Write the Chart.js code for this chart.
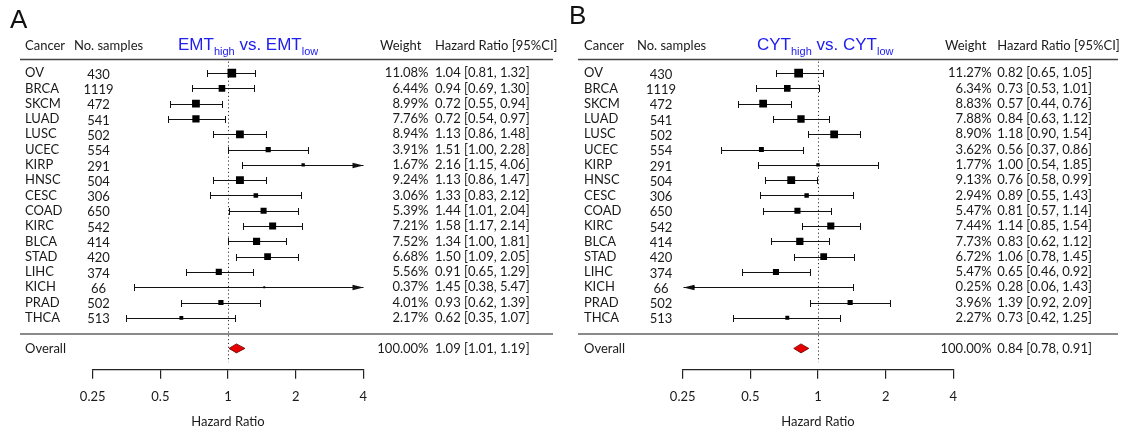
<!DOCTYPE html>
<html>
<head>
<meta charset="utf-8">
<script src="https://cdn.jsdelivr.net/npm/chart.js@4.4.1/dist/chart.umd.min.js"></script>
<style>
  html, body { margin: 0; padding: 0; background: #fff; }
  #wrap { position: relative; width: 1124px; height: 434px; }
  canvas { position: absolute; top: 0; }
</style>
</head>
<body>
<div id="wrap">
  <canvas id="panelA" width="562" height="434" style="left:0"></canvas>
  <canvas id="panelB" width="562" height="434" style="left:562px"></canvas>
</div>
<script>
// rows, top to bottom
const cancers = ['OV', 'BRCA', 'SKCM', 'LUAD', 'LUSC', 'UCEC', 'KIRP', 'HNSC', 'CESC',
  'COAD', 'KIRC', 'BLCA', 'STAD', 'LIHC', 'KICH', 'PRAD', 'THCA'];
const samples = [430, 1119, 472, 541, 502, 554, 291, 504, 306, 650, 542, 414, 420, 374, 66, 502, 513];

// panel A: EMT high vs low
const emtWeight = [11.08, 6.44, 8.99, 7.76, 8.94, 3.91, 1.67, 9.24, 3.06, 5.39, 7.21, 7.52, 6.68, 5.56, 0.37, 4.01, 2.17];
const emtHR   = [1.04, 0.94, 0.72, 0.72, 1.13, 1.51, 2.16, 1.13, 1.33, 1.44, 1.58, 1.34, 1.50, 0.91, 1.45, 0.93, 0.62];
const emtLow  = [0.81, 0.69, 0.55, 0.54, 0.86, 1.00, 1.15, 0.86, 0.83, 1.01, 1.17, 1.00, 1.09, 0.65, 0.38, 0.62, 0.35];
const emtHigh = [1.32, 1.30, 0.94, 0.97, 1.48, 2.28, 4.06, 1.47, 2.12, 2.04, 2.14, 1.81, 2.05, 1.29, 5.47, 1.39, 1.07];
const emtOverall = [1.09, 1.01, 1.19];

// panel B: CYT high vs low
const cytWeight = [11.27, 6.34, 8.83, 7.88, 8.90, 3.62, 1.77, 9.13, 2.94, 5.47, 7.44, 7.73, 6.72, 5.47, 0.25, 3.96, 2.27];
const cytHR   = [0.82, 0.73, 0.57, 0.84, 1.18, 0.56, 1.00, 0.76, 0.89, 0.81, 1.14, 0.83, 1.06, 0.65, 0.28, 1.39, 0.73];
const cytLow  = [0.65, 0.53, 0.44, 0.63, 0.90, 0.37, 0.54, 0.58, 0.55, 0.57, 0.85, 0.62, 0.78, 0.46, 0.06, 0.92, 0.42];
const cytHigh = [1.05, 1.01, 0.76, 1.12, 1.54, 0.86, 1.85, 0.99, 1.43, 1.14, 1.54, 1.12, 1.45, 0.92, 1.43, 2.09, 1.25];
const cytOverall = [0.84, 0.78, 0.91];

const overallWeight = 100.00;
const axisTicks = [0.25, 0.5, 1, 2, 4];
const tickLabels = ['0.25', '0.5', '1', '2', '4'];
const headers = ['Cancer', 'No. samples', 'Weight', 'Hazard Ratio [95%CI]'];

const FONT = 'Lato, "Open Sans", sans-serif';
const TXT = '#1a1a1a';
const SIZE = 13;

function fmtCI(h, l, u) {
  return h.toFixed(2) + ' [' + l.toFixed(2) + ', ' + u.toFixed(2) + ']';
}

function forestPlugin(p) {
  return {
    id: 'forest' + p.letter,
    beforeDatasetsDraw(chart) {
      const ctx = chart.ctx, x = chart.scales.x, y = chart.scales.y;
      ctx.save();
      // dotted line at HR = 1
      const x1 = Math.round(x.getPixelForValue(1)) + 0.5;
      ctx.strokeStyle = '#333';
      ctx.lineWidth = 1;
      ctx.setLineDash([1.2, 2.6]);
      ctx.beginPath();
      ctx.moveTo(x1, y.getPixelForValue(0.25));
      ctx.lineTo(x1, y.getPixelForValue(19.9));
      ctx.stroke();
      ctx.setLineDash([]);

      // confidence intervals, arrows when cut by the axis
      ctx.strokeStyle = '#111';
      ctx.fillStyle = '#111';
      p.low.forEach((lo, i) => {
        const hi = p.high[i];
        const py = Math.round(y.getPixelForValue(i + 1)) + 0.5;
        const a = Math.round(x.getPixelForValue(Math.max(lo, x.min))) + 0.5;
        const b = Math.round(x.getPixelForValue(Math.min(hi, x.max))) + 0.5;
        ctx.beginPath();
        ctx.moveTo(a, py);
        ctx.lineTo(b, py);
        ctx.stroke();
        [[lo < x.min, a, -1], [hi > x.max, b, 1]].forEach(([cut, px, dir]) => {
          ctx.beginPath();
          if (cut) {
            ctx.moveTo(px, py);
            ctx.lineTo(px - dir * 11, py - 2.8);
            ctx.lineTo(px - dir * 11, py + 2.8);
            ctx.closePath();
            ctx.fill();
          } else {
            ctx.moveTo(px, py - 3.5);
            ctx.lineTo(px, py + 3.5);
            ctx.stroke();
          }
        });
      });

      // overall diamond
      const [oh, ol, ou] = p.overall;
      const oy = y.getPixelForValue(19);
      ctx.beginPath();
      ctx.moveTo(x.getPixelForValue(ol), oy);
      ctx.lineTo(x.getPixelForValue(oh), oy - 4.5);
      ctx.lineTo(x.getPixelForValue(ou), oy);
      ctx.lineTo(x.getPixelForValue(oh), oy + 4.5);
      ctx.closePath();
      ctx.fillStyle = '#e60000';
      ctx.fill();
      ctx.strokeStyle = '#6a0000';
      ctx.lineWidth = 0.8;
      ctx.stroke();
      ctx.restore();
    },
    afterDraw(chart) {
      const ctx = chart.ctx, y = chart.scales.y;
      ctx.save();
      // panel letter
      ctx.fillStyle = '#111';
      ctx.font = '26px "Liberation Sans"';
      ctx.textBaseline = 'alphabetic';
      ctx.fillText(p.letter, p.letterX, p.letterY);

      // headers
      ctx.fillStyle = TXT;
      ctx.font = SIZE + 'px ' + FONT;
      ctx.textBaseline = 'middle';
      ctx.textAlign = 'left';
      ctx.fillText(headers[0], p.cancerX, 46);
      ctx.fillText(headers[1], p.samplesX, 46);
      ctx.fillText(headers[2], p.weightHeadX, 46);
      ctx.fillText(headers[3], p.hrX, 46);

      // title with subscripts
      ctx.fillStyle = '#2020ee';
      ctx.textBaseline = 'alphabetic';
      let tx = p.titleX;
      p.title.forEach(([s, sub]) => {
        ctx.font = (sub ? 11 : 17) + 'px "Liberation Sans"';
        ctx.fillText(s, tx, sub ? 54.5 : 49.5);
        tx += ctx.measureText(s).width;
      });

      // rules
      const hy = Math.round(y.getPixelForValue(0.1)) + 0.5;
      ctx.strokeStyle = '#444';
      ctx.lineWidth = 1.5;
      ctx.beginPath();
      ctx.moveTo(p.lineX0, hy);
      ctx.lineTo(p.lineX1, hy);
      ctx.stroke();
      const sy = Math.round(y.getPixelForValue(18.07));
      ctx.strokeStyle = '#8a8a8a';
      ctx.lineWidth = 2;
      ctx.beginPath();
      ctx.moveTo(p.lineX0, sy);
      ctx.lineTo(p.lineX1, sy);
      ctx.stroke();

      // row texts
      ctx.fillStyle = TXT;
      ctx.font = SIZE + 'px ' + FONT;
      ctx.textBaseline = 'middle';
      cancers.forEach((c, i) => {
        const py = y.getPixelForValue(i + 1);
        ctx.textAlign = 'left';
        ctx.fillText(c, p.cancerX, py);
        ctx.fillText(fmtCI(p.hr[i], p.low[i], p.high[i]), p.hrX, py);
        ctx.textAlign = 'center';
        ctx.fillText(String(samples[i]), p.numX, py + 1.5);
        ctx.textAlign = 'right';
        ctx.fillText(p.weight[i].toFixed(2) + '%', p.weightRightX, py);
      });
      const oy = y.getPixelForValue(19);
      ctx.textAlign = 'left';
      ctx.fillText('Overall', p.cancerX, oy);
      ctx.fillText(fmtCI(p.overall[0], p.overall[1], p.overall[2]), p.hrX, oy);
      ctx.textAlign = 'right';
      ctx.fillText(overallWeight.toFixed(2) + '%', p.weightRightX, oy);
      ctx.restore();
    }
  };
}

function makePanel(id, p) {
  new Chart(document.getElementById(id), {
    type: 'scatter',
    data: {
      datasets: [{
        data: p.hr.map((v, i) => ({ x: v, y: i + 1 })),
        pointStyle: 'rect',
        pointRadius: p.weight.map(w => Math.max(1.3, 2.6 * Math.sqrt(w) / 1.414)),
        backgroundColor: '#000',
        borderWidth: 0
      }]
    },
    options: {
      responsive: false,
      animation: false,
      layout: { padding: { top: 57.8, left: p.padLeft, right: p.padRight, bottom: 0 } },
      plugins: { legend: { display: false }, tooltip: { enabled: false } },
      scales: {
        x: {
          type: 'logarithmic',
          min: 0.25,
          max: 4,
          afterBuildTicks: s => { s.ticks = axisTicks.map(v => ({ value: v })); },
          ticks: {
            callback: (v, i) => tickLabels[i],
            autoSkip: false,
            maxRotation: 0,
            padding: 10,
            color: TXT,
            font: { family: FONT, size: SIZE }
          },
          grid: { drawOnChartArea: false, drawTicks: true, tickLength: 9, color: '#222', lineWidth: 1.2 },
          border: { display: true, color: '#222', width: 1.2 },
          title: {
            display: true,
            text: 'Hazard Ratio',
            color: TXT,
            font: { family: FONT, size: SIZE },
            padding: { top: 0, bottom: 4 }
          }
        },
        y: { type: 'linear', display: false, min: 0, max: 20.4, reverse: true }
      }
    },
    plugins: [forestPlugin(p)]
  });
}

makePanel('panelA', {
  letter: 'A', letterX: 10, letterY: 28,
  title: [['EMT', false], ['high', true], [' vs. EMT', false], ['low', true]],
  weight: emtWeight, hr: emtHR, low: emtLow, high: emtHigh, overall: emtOverall,
  cancerX: 25, samplesX: 74, numX: 98.5, titleX: 178, weightHeadX: 380, weightRightX: 428.5, hrX: 435,
  lineX0: 20, lineX1: 553, padLeft: 92.7, padRight: 198.7
});

makePanel('panelB', {
  letter: 'B', letterX: 7, letterY: 24,
  title: [['CYT', false], ['high', true], [' vs. CYT', false], ['low', true]],
  weight: cytWeight, hr: cytHR, low: cytLow, high: cytHigh, overall: cytOverall,
  cancerX: 22, samplesX: 75, numX: 99, titleX: 195, weightHeadX: 383, weightRightX: 429.7, hrX: 435.3,
  lineX0: 16, lineX1: 556, padLeft: 120.7, padRight: 170.7
});
</script>
</body>
</html>
